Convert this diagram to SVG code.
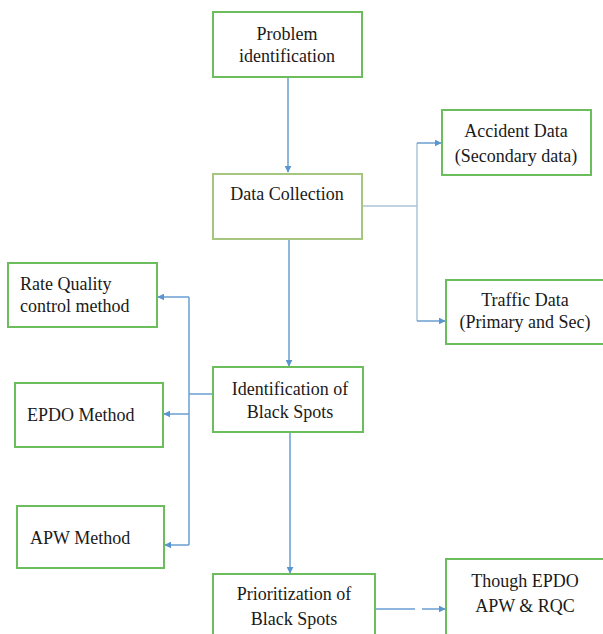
<svg xmlns="http://www.w3.org/2000/svg" width="603" height="634" viewBox="0 0 603 634">
<style>
.box{fill:#fff;stroke:#6cbd5c;stroke-width:2}
.box2{fill:#fff;stroke:#a6c67e;stroke-width:2}
.t{font-family:"Liberation Serif","Times New Roman",serif;font-size:18px;fill:#1a1a1a}
.c{text-anchor:middle}
.ln{fill:none;stroke:#6a9fd3;stroke-width:1.5}
.ln2{fill:none;stroke:#a9c3d9;stroke-width:1.5}
</style>
<defs>
<marker id="ah" viewBox="0 0 10 10" refX="9" refY="5" markerWidth="7" markerHeight="7" orient="auto" markerUnits="userSpaceOnUse">
<path d="M0,0 L10,5 L0,10 Z" fill="#5b95cf"/>
</marker>
</defs>
<rect width="603" height="634" fill="#fff"/>
<g id="connectors">
<path class="ln" d="M288,77 V172" marker-end="url(#ah)"/>
<path class="ln2" d="M362,206 H417"/>
<path class="ln2" d="M417,143 V321"/>
<path class="ln" d="M417,143 H441" marker-end="url(#ah)"/>
<path class="ln" d="M417,321 H445" marker-end="url(#ah)"/>
<path class="ln" d="M289,239 V366" marker-end="url(#ah)"/>
<path class="ln" d="M213,394 H189"/>
<path class="ln" d="M189,297 V545"/>
<path class="ln" d="M189,297 H158" marker-end="url(#ah)"/>
<path class="ln" d="M189,414 H164" marker-end="url(#ah)"/>
<path class="ln" d="M189,545 H165" marker-end="url(#ah)"/>
<path class="ln" d="M290,432 V573" marker-end="url(#ah)"/>
<path class="ln" d="M375,609 H415 M422,609 H445" marker-end="url(#ah)"/>
</g>
<g id="problem">
<rect class="box" x="213" y="12" width="149" height="65"/>
<text class="t c" x="287" y="40">Problem</text>
<text class="t c" x="287" y="62">identification</text>
</g>
<g id="data-collection">
<rect class="box2" x="213" y="174" width="149" height="65"/>
<text class="t c" x="287" y="200">Data Collection</text>
</g>
<g id="accident-data">
<rect class="box" x="442" y="110" width="149" height="65"/>
<text class="t c" x="516" y="137">Accident Data</text>
<text class="t c" x="516" y="162">(Secondary data)</text>
</g>
<g id="traffic-data">
<rect class="box" x="446" y="280" width="160" height="64"/>
<text class="t c" x="525" y="306">Traffic Data</text>
<text class="t c" x="525" y="328">(Primary and Sec)</text>
</g>
<g id="rate-quality">
<rect class="box" x="8" y="263" width="149" height="64"/>
<text class="t" x="20" y="290">Rate Quality</text>
<text class="t" x="20" y="312">control method</text>
</g>
<g id="epdo">
<rect class="box" x="15" y="383" width="148" height="64"/>
<text class="t" x="27" y="421">EPDO Method</text>
</g>
<g id="apw">
<rect class="box" x="17" y="506" width="147" height="62"/>
<text class="t" x="30" y="544">APW Method</text>
</g>
<g id="identification">
<rect class="box" x="213" y="367" width="150" height="65"/>
<text class="t c" x="290" y="395">Identification of</text>
<text class="t c" x="290" y="418">Black Spots</text>
</g>
<g id="prioritization">
<rect class="box" x="213" y="574" width="162" height="70"/>
<text class="t c" x="294" y="600">Prioritization of</text>
<text class="t c" x="294" y="625">Black Spots</text>
</g>
<g id="though">
<rect class="box" x="446" y="559" width="170" height="85"/>
<text class="t c" x="525" y="587">Though EPDO</text>
<text class="t c" x="525" y="612">APW &amp; RQC</text>
</g>
</svg>
